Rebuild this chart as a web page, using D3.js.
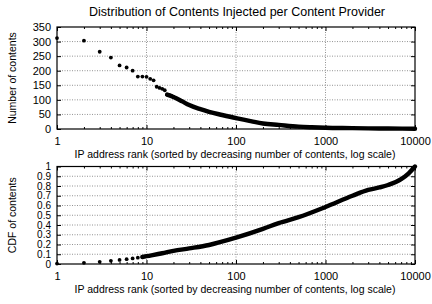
<!DOCTYPE html>
<html>
<head>
<meta charset="utf-8">
<script src="https://cdn.jsdelivr.net/npm/d3@7"></script>
<style>
  body { margin: 0; background: #fff; }
  text { font-family: "Liberation Sans", Arial, sans-serif; fill: #000; }
</style>
</head>
<body>
<div id="chart"></div>
<script>
// ranks (log x axis)
var topDotRanks = [1,2,3,4,5,6,7,8,9,10,11,12,13,14,15,16,17,18,19,20];
var topDotValues = [312,303,265,245,218,211,200,180,180,179,172,167,145,141,138,133,118,116,114,110];
var topCurveRanks = [17,20,25,30,40,50,70,100,150,200,300,500,700,1000,2000,3000,5000,10000];
var topCurveValues = [118,110,95,82,68,59,48,37,26,19,14,8,6,4.5,3,2,1.5,1];

var cdfDotRanks = [1,2,3,4,5,6,7,8,9];
var cdfDotValues = [0.004,0.012,0.022,0.033,0.042,0.05,0.057,0.065,0.072];
var cdfCurveRanks = [9,10,15,20,30,50,100,200,300,500,1000,2000,3000,4000,5000,7000,8500,10000];
var cdfCurveValues = [0.072,0.08,0.11,0.135,0.16,0.195,0.27,0.36,0.42,0.48,0.585,0.7,0.76,0.785,0.81,0.87,0.93,1.0];

var xTicks = [1,10,100,1000,10000];
var topYTicks = [0,50,100,150,200,250,300,350];
var cdfYTicks = [0,0.1,0.2,0.3,0.4,0.5,0.6,0.7,0.8,0.9,1];

var width = 432, height = 304;
var left = 57, right = 415;

var svg = d3.select("#chart").append("svg")
  .attr("width", width).attr("height", height);

svg.append("text")
  .attr("x", 237).attr("y", 16)
  .attr("text-anchor", "middle")
  .style("font-size", "12.5px")
  .text("Distribution of Contents Injected per Content Provider");

var x = d3.scaleLog().domain([1, 10000]).range([left, right]);

var minor = [];
[1,10,100,1000].forEach(function(d) {
  for (var i = 2; i <= 9; i++) minor.push(d * i);
});

var drawPanel = function(opt) {
  var y = d3.scaleLinear().domain(opt.yDomain).range([opt.bottom, opt.top]);
  var h = opt.bottom - opt.top;
  var g = svg.append("g");

  // grid
  g.append("g")
    .selectAll("line.hg")
    .data(opt.yTicks.slice(1, -1))
    .enter().append("line")
      .attr("x1", left).attr("x2", right)
      .attr("y1", function(d) { return y(d); })
      .attr("y2", function(d) { return y(d); })
      .attr("stroke", "#777").attr("stroke-width", 0.8)
      .attr("stroke-dasharray", "1,1.5");
  g.append("g")
    .selectAll("line.vg")
    .data(xTicks.slice(1, -1))
    .enter().append("line")
      .attr("x1", function(d) { return x(d); })
      .attr("x2", function(d) { return x(d); })
      .attr("y1", opt.top).attr("y2", opt.bottom)
      .attr("stroke", "#777").attr("stroke-width", 0.8)
      .attr("stroke-dasharray", "1,1.5");

  // axes with inward ticks
  var ax = function(axis, tr, fs) {
    var a = g.append("g").attr("transform", tr).call(axis);
    a.select(".domain").remove();
    a.selectAll("text").style("font-size", fs || "11px").style("font-family", "Liberation Sans, Arial, sans-serif");
    return a;
  };
  ax(d3.axisBottom(x).tickValues(xTicks).tickFormat(d3.format("d")).tickSizeInner(-4).tickPadding(8),
     "translate(0," + opt.bottom + ")");
  ax(d3.axisBottom(x).tickValues(minor).tickFormat("").tickSizeInner(-2),
     "translate(0," + opt.bottom + ")");
  ax(d3.axisTop(x).tickValues(xTicks).tickFormat("").tickSizeInner(-4),
     "translate(0," + opt.top + ")");
  ax(d3.axisTop(x).tickValues(minor).tickFormat("").tickSizeInner(-2),
     "translate(0," + opt.top + ")");
  ax(d3.axisLeft(y).tickValues(opt.yTicks).tickFormat(opt.fmt).tickSizeInner(-4).tickPadding(6),
     "translate(" + left + ",0)", opt.tickFont);
  ax(d3.axisRight(y).tickValues(opt.yTicks).tickFormat("").tickSizeInner(-4),
     "translate(" + right + ",0)");

  // border
  g.append("rect")
    .attr("x", left).attr("y", opt.top)
    .attr("width", right - left).attr("height", h)
    .attr("fill", "none").attr("stroke", "#000").attr("stroke-width", 1.2);

  // data
  var line = d3.line()
    .x(function(d) { return x(d[0]); })
    .y(function(d) { return y(d[1]); })
    .curve(d3.curveMonotoneX);
  var curve = opt.curveRanks.map(function(r, i) { return [r, opt.curveValues[i]]; });
  g.append("path")
    .attr("d", line(curve))
    .attr("fill", "none").attr("stroke", "#000")
    .attr("stroke-width", 4.4).attr("stroke-linecap", "round");
  g.selectAll("circle")
    .data(opt.dotRanks.map(function(r, i) { return [r, opt.dotValues[i]]; }))
    .enter().append("circle")
      .attr("cx", function(d) { return x(d[0]); })
      .attr("cy", function(d) { return y(d[1]); })
      .attr("r", 1.9).attr("fill", "#000");

  // labels
  svg.append("text")
    .attr("transform", "translate(16," + ((opt.top + opt.bottom) / 2) + ") rotate(-90)")
    .attr("text-anchor", "middle")
    .style("font-size", "10.5px")
    .text(opt.yLabel);
  svg.append("text")
    .attr("x", (left + right) / 2 - 1).attr("y", opt.bottom + 29)
    .attr("text-anchor", "middle")
    .style("font-size", "10.5px")
    .text("IP address rank (sorted by decreasing number of contents, log scale)");
};

drawPanel({
  top: 27, bottom: 129, yDomain: [0, 350], yTicks: topYTicks, fmt: d3.format("d"),
  dotRanks: topDotRanks, dotValues: topDotValues,
  curveRanks: topCurveRanks, curveValues: topCurveValues,
  yLabel: "Number of contents"
});
drawPanel({
  top: 166.5, bottom: 264, yDomain: [0, 1], yTicks: cdfYTicks, fmt: function(d) { return d3.format("")(+d.toFixed(1)); },
  dotRanks: cdfDotRanks, dotValues: cdfDotValues,
  curveRanks: cdfCurveRanks, curveValues: cdfCurveValues,
  yLabel: "CDF of contents", tickFont: "10px"
});
</script>
</body>
</html>
